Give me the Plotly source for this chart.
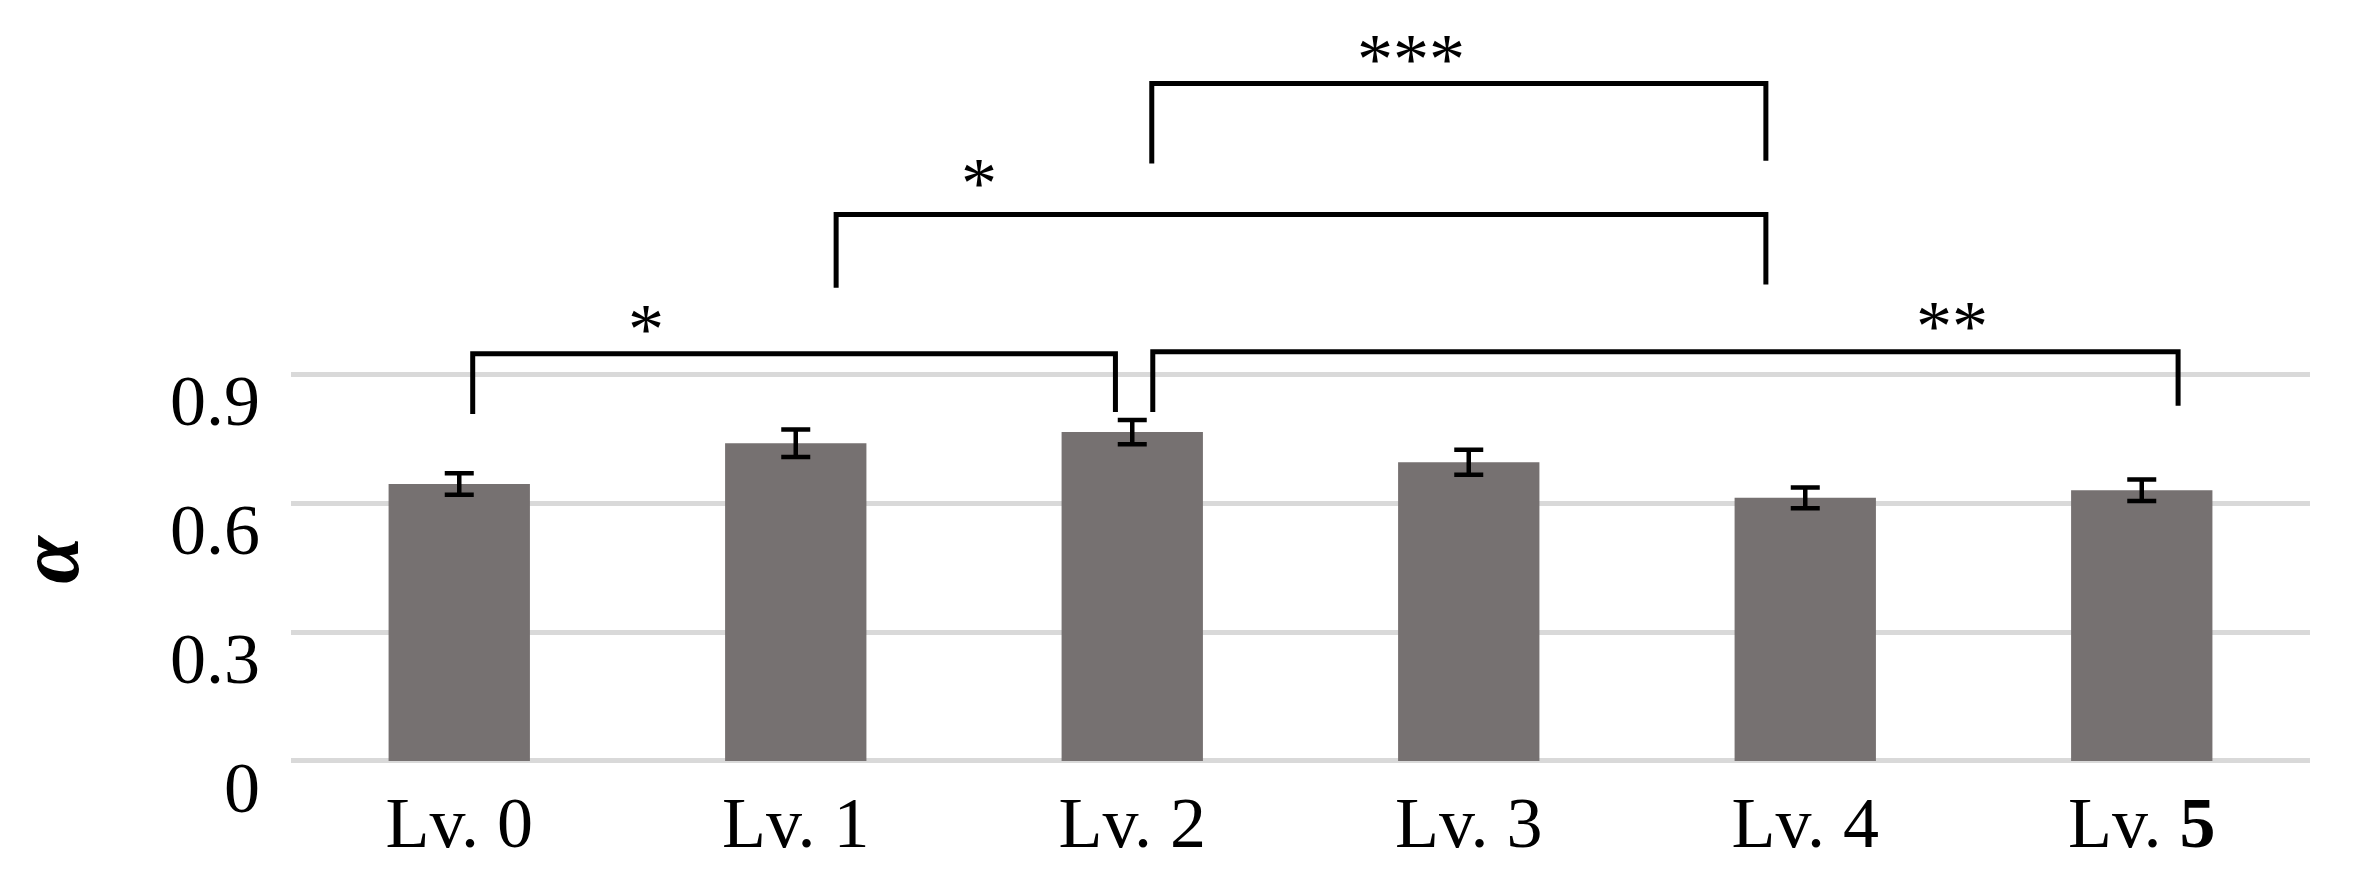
import plotly.graph_objects as go

# ---- data ----
levels = [0, 1, 2, 3, 4, 5]
level_labels = ["Lv. 0", "Lv. 1", "Lv. 2", "Lv. 3", "Lv. 4", "Lv. <b>5</b>"]
alpha_mean = [0.644, 0.739, 0.765, 0.695, 0.612, 0.630]
alpha_err = [0.025, 0.032, 0.028, 0.029, 0.024, 0.025]
y_ticks = [0, 0.3, 0.6, 0.9]
y_tick_labels = ["0", "0.3", "0.6", "0.9"]

# significance comparisons: (level a, level b, label)
comparisons = [(0, 2, "*"), (1, 4, "*"), (2, 4, "***"), (2, 5, "**")]

# ---- bracket geometry (drawing layout, in axis units) ----
bracket_geom = [
    # x_left, x_right, y_top, y_bottom_left, y_bottom_right, label_x, label_y
    (0.040, 1.950, 0.947, 0.807, 0.812, 0.555, 1.021),
    (1.120, 3.883, 1.271, 1.101, 1.108, 1.545, 1.360),
    (2.058, 3.883, 1.576, 1.390, 1.396, 2.828, 1.650),
    (2.061, 5.108, 0.952, 0.812, 0.826, 4.436, 1.029),
]

FONT = "Liberation Serif, Times New Roman, serif"
BAR_COLOR = "#767171"
GRID_COLOR = "#d9d9d9"

fig = go.Figure()
fig.add_trace(go.Bar(
    x=levels, y=alpha_mean,
    marker=dict(color=BAR_COLOR, line=dict(width=0)),
    error_y=dict(type="data", array=alpha_err, visible=True,
                 color="black", thickness=4.5, width=14.5),
    width=0.42,
    showlegend=False,
))

shapes = []
annotations = []
for (a, b, lab), (xl, xr, yt, ybl, ybr, lx, ly) in zip(comparisons, bracket_geom):
    shapes.append(dict(
        type="path", xref="x", yref="y",
        path=f"M {xl},{ybl} L {xl},{yt} L {xr},{yt} L {xr},{ybr}",
        line=dict(color="black", width=5),
    ))
    annotations.append(dict(
        x=lx, y=ly, xref="x", yref="y", text=lab, showarrow=False,
        font=dict(family=FONT, size=72, color="black"),
        xanchor="center", yanchor="middle", yshift=-7,
    ))

annotations.append(dict(
    x=(49 - 291) / 2019, y=0.468, xref="paper", yref="y",
    text="α", showarrow=False, textangle=-90,
    font=dict(family=FONT, size=86, color="black", style="italic", weight="bold"),
    xanchor="center", yanchor="middle",
))

fig.update_layout(
    width=2357, height=877,
    margin=dict(l=291, r=47, t=0, b=113),
    plot_bgcolor="white", paper_bgcolor="white",
    bargap=0.58,
    shapes=shapes,
    annotations=annotations,
    xaxis=dict(
        tickmode="array", tickvals=levels, ticktext=level_labels,
        range=[-0.5, 5.5], showgrid=False, zeroline=False, showline=False,
        ticks="", tickfont=dict(family=FONT, size=72, color="black"),
        ticklabelstandoff=10,
    ),
    yaxis=dict(
        tickmode="array", tickvals=y_ticks, ticktext=y_tick_labels,
        range=[-0.007, 1.77], showgrid=True, gridcolor=GRID_COLOR, gridwidth=5,
        zeroline=False, showline=False, ticks="",
        tickfont=dict(family=FONT, size=72, color="black"),
        ticklabelshift=26, ticklabelstandoff=30,
    ),
    font=dict(family=FONT),
)

fig.write_html("out.html")
